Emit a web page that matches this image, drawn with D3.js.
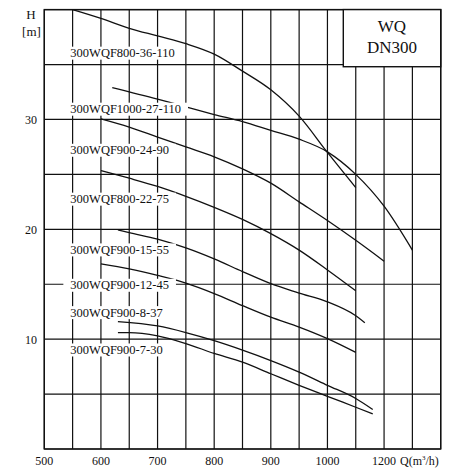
<!DOCTYPE html>
<html><head><meta charset="utf-8">
<script src="https://cdn.jsdelivr.net/npm/d3@7"></script>
<style>
html,body{margin:0;padding:0;background:#fff;}
svg{display:block;font-family:"Liberation Serif","Times New Roman",serif;}
</style></head>
<body><svg id="c" width="457" height="469"></svg>
<script>
// ---- data ----
const seriesNames = ["300WQF800-36-110","300WQF1000-27-110","300WQF900-24-90","300WQF800-22-75",
  "300WQF900-15-55","300WQF900-12-45","300WQF900-8-37","300WQF900-7-30"];
const q1 = [550,600,650,700,750,800,850,900,950,1000,1050];
const h1 = [40.0,39.2,38.3,37.6,36.9,35.95,34.4,32.7,30.3,27.0,23.8];
const q2 = [620,700,750,800,850,900,950,1000,1050,1100,1150];
const h2 = [32.9,31.85,31.15,30.45,29.8,29.0,28.2,27.05,25.0,22.1,18.1];
const q3 = [600,650,700,750,800,850,900,950,1000,1050,1100];
const h3 = [30.05,29.3,28.4,27.5,26.6,25.5,24.2,22.5,20.8,19.0,17.1];
const q4 = [600,650,700,750,800,850,900,950,1000,1050];
const h4 = [25.35,24.65,23.9,23.0,22.0,20.9,19.6,18.1,16.3,14.4];
const q5 = [630,650,700,750,800,850,900,950,1000,1048,1066];
const h5 = [19.95,19.7,19.1,18.3,17.3,16.15,15.05,14.2,13.4,12.2,11.5];
const q6 = [600,650,700,750,800,850,900,950,1000,1050];
const h6 = [16.85,16.4,15.8,15.1,14.15,13.05,12.0,11.1,10.05,8.8];
const q7 = [630,700,750,800,850,900,950,1000,1050,1080];
const h7 = [11.6,11.2,10.6,9.86,9.0,8.05,7.0,5.8,4.6,3.6];
const q8 = [630,650,700,750,800,850,900,950,1000,1050,1080];
const h8 = [10.6,10.6,10.3,9.6,8.7,7.9,6.85,5.8,4.8,3.8,3.2];
const labelQ = 546;
const labelH = [35.67,30.57,26.83,22.38,17.76,14.54,12.05,8.65];
const xTickValues = [500,600,700,800,900,1000,1100];
const xTickLabels = ["500","600","700","800","900","1000","1200"];
const yTickValues = [10,20,30];
const titleLines = ["WQ","DN300"];

// ---- drawing ----
const svg = d3.select("#c");
const x = d3.scaleLinear().domain([500,1200]).range([44.3,440.7]);
const y = d3.scaleLinear().domain([0,40]).range([449,9.6]);
const ink = "#111";

const grid = svg.append("g");
d3.range(500,1201,50).forEach(v=>{
  grid.append("line").attr("x1",x(v)).attr("x2",x(v)).attr("y1",y(0)).attr("y2",y(40))
    .attr("stroke",ink).attr("stroke-width",1.2);
});
d3.range(0,41,5).forEach(v=>{
  grid.append("line").attr("x1",x(500)).attr("x2",x(1200)).attr("y1",y(v)).attr("y2",y(v))
    .attr("stroke",ink).attr("stroke-width",1.2);
});
svg.append("rect").attr("x",x(500)).attr("y",y(40)).attr("width",x(1200)-x(500)).attr("height",y(0)-y(40))
  .attr("fill","none").attr("stroke",ink).attr("stroke-width",1.4);

// curves
const qs=[q1,q2,q3,q4,q5,q6,q7,q8], hs=[h1,h2,h3,h4,h5,h6,h7,h8];
const line = d3.line().x(d=>x(d[0])).y(d=>y(d[1])).curve(d3.curveMonotoneX);
qs.forEach((q,i)=>{
  svg.append("path").attr("d",line(q.map((v,j)=>[v,hs[i][j]])))
    .attr("fill","none").attr("stroke",ink).attr("stroke-width",1.3);
});

// labels with white background
seriesNames.forEach((n,i)=>{
  const g = svg.append("g");
  const t = g.append("text").attr("x",x(labelQ)).attr("y",y(labelH[i]))
    .attr("font-size",12.5).attr("fill",ink).text(n);
  const bb = t.node().getBBox();
  g.insert("rect","text").attr("x",bb.x-7).attr("y",bb.y+0.5).attr("width",bb.width+14).attr("height",bb.height-1)
    .attr("fill","#fff");
});

// title box
const bx0 = x(1028), by0 = y(40), bx1 = x(1200), by1 = y(34.8);
svg.append("rect").attr("x",bx0).attr("y",by0).attr("width",bx1-bx0).attr("height",by1-by0)
  .attr("fill","#fff").attr("stroke",ink).attr("stroke-width",1.4);
titleLines.forEach((t,i)=>{
  svg.append("text").attr("x",(bx0+bx1)/2).attr("y",by0+22+i*21).attr("text-anchor","middle")
    .attr("font-size",17).attr("fill",ink).text(t);
});

// axes labels
xTickValues.forEach((v,i)=>{
  svg.append("text").attr("x",x(v)).attr("y",465).attr("text-anchor","middle")
    .attr("font-size",12).attr("fill",ink).text(xTickLabels[i]);
});
const ql = svg.append("text").attr("x",400).attr("y",465).attr("font-size",12).attr("fill",ink);
ql.append("tspan").text("Q(m");
ql.append("tspan").attr("font-size",7).attr("dy",-5).text("3");
ql.append("tspan").attr("dy",5).text("/h)");
yTickValues.forEach(v=>{
  svg.append("text").attr("x",37).attr("y",y(v)+4.5).attr("text-anchor","end")
    .attr("font-size",12).attr("fill",ink).text(v);
});
svg.append("text").attr("x",31).attr("y",19.3).attr("text-anchor","middle").attr("font-size",13).attr("fill",ink).text("H");
svg.append("text").attr("x",31.5).attr("y",36).attr("text-anchor","middle").attr("font-size",13).attr("fill",ink).text("[m]");
</script></body></html>
